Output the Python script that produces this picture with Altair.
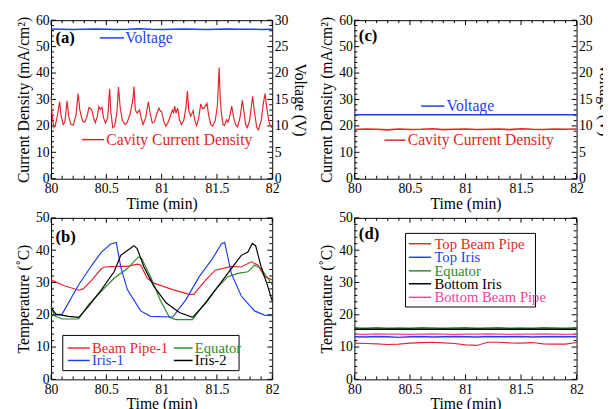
import altair as alt
import pandas as pd

FONT = "Liberation Serif"
RED = "#e4252b"
BLUE = "#1f3ff0"
GREEN = "#2d8a2a"
BLACK = "#000000"
PINK = "#f2409b"

# ---------------- Panel (a) ----------------
A_CD_T = [80.000, 80.010, 80.025, 80.040, 80.060, 80.077, 80.090, 80.110, 80.125, 80.145,
          80.160, 80.180, 80.200, 80.225, 80.245, 80.260, 80.285, 80.305, 80.325, 80.342,
          80.360, 80.372, 80.385, 80.400, 80.418, 80.432, 80.445, 80.460, 80.475, 80.492,
          80.512, 80.530, 80.540, 80.558, 80.575, 80.595, 80.610, 80.625, 80.645, 80.670,
          80.690, 80.715, 80.740, 80.750, 80.762, 80.780, 80.800, 80.815, 80.832, 80.855,
          80.880, 80.895, 80.915, 80.935, 80.955, 80.976, 80.990, 81.000, 81.020, 81.038,
          81.060, 81.085, 81.098, 81.108, 81.118, 81.130, 81.145, 81.160, 81.178, 81.200,
          81.220, 81.233, 81.245, 81.263, 81.285, 81.300, 81.316, 81.335, 81.354, 81.370,
          81.382, 81.410, 81.425, 81.445, 81.462, 81.485, 81.505, 81.520, 81.530, 81.540,
          81.556, 81.568, 81.585, 81.600, 81.618, 81.634, 81.650, 81.668, 81.686, 81.708,
          81.730, 81.745, 81.760, 81.775, 81.795, 81.823, 81.840, 81.860, 81.875, 81.900,
          81.920, 81.935, 81.950, 81.970, 81.985, 82.000]
A_CD_V = [31.0, 24.0, 19.5, 20.5, 24.5, 29.1, 24.0, 20.5, 21.5, 29.5,
          23.5, 20.5, 20.3, 24.0, 32.2, 26.0, 21.8, 21.4, 23.5, 26.9,
          26.5, 25.5, 23.0, 21.2, 23.5, 27.3, 26.2, 27.0, 23.0, 21.1,
          23.0, 34.0, 25.5, 19.3, 19.8, 25.0, 34.7, 27.0, 22.0, 20.5,
          21.5, 24.5, 30.0, 34.9, 26.0, 24.8, 26.0, 23.0, 20.5, 23.0,
          29.1, 25.0, 21.1, 21.5, 24.5, 26.7, 25.5, 25.4, 21.5, 19.9,
          21.5, 24.5, 26.0, 25.0, 27.5, 24.8, 26.7, 22.5, 20.5, 22.0,
          27.0, 33.2, 26.0, 23.6, 25.8, 22.0, 20.1, 23.0, 28.3, 26.5,
          26.7, 28.5, 24.0, 20.5, 19.9, 22.0, 28.0, 42.1, 30.0, 24.8,
          20.5, 20.1, 22.3, 21.4, 24.0, 27.5, 23.5, 20.5, 19.6, 23.0,
          29.7, 25.0, 20.5, 19.3, 22.0, 31.2, 25.0, 19.5, 18.6, 22.0,
          28.5, 32.2, 27.0, 21.7, 19.8, 19.3]
A_V_T = [80.0, 80.1, 80.2, 80.3, 80.4, 80.5, 80.6, 80.7, 80.8, 80.9, 81.0,
         81.1, 81.2, 81.3, 81.4, 81.5, 81.6, 81.7, 81.8, 81.9, 82.0]
A_V_V = [28.35, 28.3, 28.25, 28.3, 28.35, 28.3, 28.25, 28.3, 28.4, 28.3, 28.25,
         28.3, 28.35, 28.3, 28.25, 28.3, 28.35, 28.3, 28.3, 28.25, 28.3]

# ---------------- Panel (c) ----------------
C_T = [80.0, 80.1, 80.2, 80.3, 80.4, 80.5, 80.6, 80.7, 80.8, 80.9, 81.0,
       81.1, 81.2, 81.3, 81.4, 81.5, 81.6, 81.7, 81.8, 81.9, 82.0]
C_CD_V = [18.6, 18.8, 18.7, 18.5, 18.8, 18.6, 18.7, 18.9, 18.6, 18.7, 18.8,
          18.6, 18.7, 18.8, 18.6, 18.9, 18.7, 18.6, 18.8, 18.7, 18.8]
C_V_V = [12.1, 12.1, 12.1, 12.1, 12.1, 12.1, 12.1, 12.1, 12.1, 12.1, 12.1,
         12.1, 12.1, 12.1, 12.1, 12.1, 12.1, 12.1, 12.1, 12.1, 12.1]

# ---------------- Panel (b) ----------------
B_BP1_T = [80.00, 80.12, 80.25, 80.29, 80.37, 80.456, 80.485, 80.60, 80.69, 80.78, 80.81, 80.87,
           80.93, 81.10, 81.25, 81.29, 81.40, 81.485, 81.63, 81.72, 81.81, 81.87, 81.93, 82.00]
B_BP1_V = [30.8, 29.0, 27.6, 28.0, 30.8, 34.3, 34.8, 35.0, 35.0, 35.7, 35.4, 31.3,
           29.8, 27.8, 26.3, 26.3, 30.8, 33.8, 35.0, 34.8, 36.4, 35.4, 31.8, 30.8]
B_IR1_T = [80.00, 80.10, 80.25, 80.37, 80.456, 80.54, 80.59, 80.63, 80.69, 80.81, 80.90,
           81.10, 81.22, 81.34, 81.46, 81.54, 81.57, 81.63, 81.72, 81.84, 81.93, 82.00]
B_IR1_V = [19.7, 20.2, 29.3, 35.4, 39.4, 41.9, 42.4, 34.8, 27.8, 21.2, 19.5,
           19.3, 24.7, 31.8, 37.4, 41.9, 42.4, 32.8, 25.8, 21.2, 19.9, 19.7]
B_EQ_T = [80.00, 80.03, 80.10, 80.25, 80.34, 80.456, 80.57, 80.69, 80.79, 80.82, 80.90, 80.985,
          81.07, 81.13, 81.28, 81.37, 81.485, 81.60, 81.69, 81.78, 81.84, 81.90, 81.96, 82.00]
B_EQ_V = [22.7, 19.7, 18.7, 18.7, 23.2, 27.3, 31.3, 34.3, 37.9, 37.4, 31.8, 24.7,
          19.2, 18.5, 18.5, 22.7, 27.8, 31.8, 32.8, 33.3, 35.4, 34.3, 31.3, 29.3]
B_IR2_T = [80.00, 80.044, 80.16, 80.25, 80.34, 80.456, 80.57, 80.63, 80.69, 80.75, 80.78, 80.84,
           80.93, 81.04, 81.16, 81.28, 81.40, 81.51, 81.63, 81.72, 81.78, 81.82, 81.85, 81.90,
           81.96, 82.00]
B_IR2_V = [22.2, 20.2, 19.5, 19.2, 22.7, 27.8, 33.3, 38.4, 39.9, 41.4, 40.4, 34.8,
           28.8, 23.7, 20.7, 19.2, 23.7, 28.8, 34.3, 38.4, 39.4, 42.1, 41.4, 34.8,
           28.8, 24.2]

# ---------------- Panel (d) ----------------
D_T = [80.0, 80.1, 80.2, 80.3, 80.4, 80.5, 80.6, 80.7, 80.8, 80.9, 81.0,
       81.1, 81.2, 81.3, 81.4, 81.5, 81.6, 81.7, 81.8, 81.9, 82.0]
D_TBP = [11.2, 11.1, 11.0, 10.8, 10.9, 11.2, 11.4, 11.5, 11.3, 11.1, 10.7,
         10.5, 11.5, 11.5, 11.3, 11.2, 11.4, 11.0, 10.9, 10.9, 11.4]
D_TIR = [13.2, 13.1, 13.3, 13.2, 13.0, 13.2, 13.3, 13.1, 13.2, 13.3, 13.2,
         13.1, 13.3, 13.2, 13.2, 13.3, 13.1, 13.2, 13.3, 13.2, 13.2]
D_EQ = [15.9, 15.8, 16.0, 15.8, 15.9, 15.8, 16.0, 15.9, 15.8, 15.9, 16.0,
        15.8, 15.9, 16.0, 15.8, 15.9, 15.8, 16.0, 15.9, 15.8, 16.0]
D_BIR = [15.5, 15.5, 15.5, 15.5, 15.5, 15.5, 15.5, 15.5, 15.5, 15.5, 15.5,
         15.5, 15.5, 15.5, 15.5, 15.5, 15.5, 15.5, 15.5, 15.5, 15.5]
D_BBP = [14.0, 13.9, 14.1, 14.0, 14.0, 13.9, 14.0, 14.1, 14.0, 13.9, 14.0,
         14.0, 14.1, 14.0, 13.9, 14.0, 14.0, 14.1, 14.0, 13.9, 14.0]

# ---------------- axes ----------------
T_DOM = [80, 82]
X_MAJ = [80, 80.5, 81, 81.5, 82]
X_MIN = [80.1, 80.2, 80.3, 80.4, 80.6, 80.7, 80.8, 80.9, 81.1, 81.2, 81.3, 81.4,
         81.6, 81.7, 81.8, 81.9]
CD_MAJ = [0, 10, 20, 30, 40, 50, 60]
CD_MIN = [2, 4, 6, 8, 12, 14, 16, 18, 22, 24, 26, 28, 32, 34, 36, 38, 42, 44, 46, 48, 52, 54, 56, 58]
V_MAJ = [0, 5, 10, 15, 20, 25, 30]
TE_MAJ = [0, 10, 20, 30, 40, 50]
TE_MIN = [2, 4, 6, 8, 12, 14, 16, 18, 22, 24, 26, 28, 32, 34, 36, 38, 42, 44, 46, 48]


def sc(dom):
    return alt.Scale(domain=dom, nice=False, zero=False, padding=0)


def x_label_axis():
    return alt.Axis(orient="bottom", values=X_MAJ, format=".4~g", ticks=False, domain=False,
                    labelPadding=3, labelFlush=False, labelOverlap=False, grid=False,
                    title="Time (min)", titlePadding=0)


def y_label_axis(orient, title, vals):
    return alt.Axis(orient=orient, values=vals, format=".4~g", ticks=False, domain=False,
                    labelPadding=2, labelFlush=False, labelOverlap=False, grid=False,
                    title=title, titlePadding=4)


def tick_layers(W, H, ydom, ymaj, ymin):
    """Inward ticks on all four sides, drawn as short rules through the scales."""
    out = []
    for vals, size in ((X_MAJ, 5), (X_MIN, 3)):
        df = pd.DataFrame({"t": vals})
        xenc = alt.X("t:Q", scale=sc(T_DOM), axis=None)
        out.append(alt.Chart(df).mark_rule(color="black", strokeWidth=1).encode(
            x=xenc, y=alt.value(H), y2=alt.value(H - size)))
        out.append(alt.Chart(df).mark_rule(color="black", strokeWidth=1).encode(
            x=xenc, y=alt.value(0), y2=alt.value(size)))
    for vals, size in ((ymaj, 5), (ymin, 3)):
        df = pd.DataFrame({"v": vals})
        yenc = alt.Y("v:Q", scale=sc(ydom), axis=None)
        out.append(alt.Chart(df).mark_rule(color="black", strokeWidth=1).encode(
            y=yenc, x=alt.value(0), x2=alt.value(size)))
        out.append(alt.Chart(df).mark_rule(color="black", strokeWidth=1).encode(
            y=yenc, x=alt.value(W), x2=alt.value(W - size)))
    return out


def line(t, v, color, ydom, xaxis=None, yaxis=None, width=1.2):
    df = pd.DataFrame({"t": t, "v": v})
    return alt.Chart(df).mark_line(color=color, strokeWidth=width).encode(
        x=alt.X("t:Q", scale=sc(T_DOM), axis=xaxis),
        y=alt.Y("v:Q", scale=sc(ydom), axis=yaxis))


def texts(items, ydom, size=15, bold=False):
    df = pd.DataFrame(items, columns=["t", "v", "label", "color"])
    return alt.Chart(df).mark_text(align="left", baseline="middle", font=FONT, fontSize=size,
                                   fontWeight="bold" if bold else "normal").encode(
        x=alt.X("t:Q", scale=sc(T_DOM), axis=None),
        y=alt.Y("v:Q", scale=sc(ydom), axis=None),
        text="label:N",
        color=alt.Color("color:N", scale=None))


def samples(items, ydom, width=1.5):
    df = pd.DataFrame(items, columns=["t", "t2", "v", "color"])
    return alt.Chart(df).mark_rule(strokeWidth=width).encode(
        x=alt.X("t:Q", scale=sc(T_DOM), axis=None),
        x2="t2:Q",
        y=alt.Y("v:Q", scale=sc(ydom), axis=None),
        color=alt.Color("color:N", scale=None))


def box(t1, t2, v1, v2, ydom):
    df = pd.DataFrame({"t": [t1], "t2": [t2], "v": [v1], "v2": [v2]})
    return alt.Chart(df).mark_rect(fill="white", stroke="black", strokeWidth=1).encode(
        x=alt.X("t:Q", scale=sc(T_DOM), axis=None), x2="t2:Q",
        y=alt.Y("v:Q", scale=sc(ydom), axis=None), y2="v2:Q")


def panel(layers, W, H):
    return alt.layer(*layers).resolve_scale(y="independent").resolve_axis(
        x="independent", y="independent").properties(width=W, height=H)


WL, WR = 226, 227
HT, HB = 162, 165
CD_DOM = [0, 60]
V_DOM = [0, 30]
TE_DOM = [0, 50]

# (a)
pa = panel(tick_layers(WL, HT, CD_DOM, CD_MAJ, CD_MIN) + [
    line(A_CD_T, A_CD_V, RED, CD_DOM, x_label_axis(),
         y_label_axis("left", "Current Density (mA/cm²)", CD_MAJ)),
    line(A_V_T, A_V_V, BLUE, V_DOM, None, y_label_axis("right", "Voltage (V)", V_MAJ), 1.5),
    samples([(80.44, 80.66, 53.3, BLUE), (80.28, 80.48, 14.8, RED)], CD_DOM),
    texts([(80.67, 53.3, "Voltage", BLUE), (80.50, 14.8, "Cavity Current Density", RED)], CD_DOM, 16),
    texts([(80.04, 53.2, "(a)", BLACK)], CD_DOM, 17, True),
], WL, HT)

# (c)
pc = panel(tick_layers(WR, HT, CD_DOM, CD_MAJ, CD_MIN) + [
    line(C_T, C_CD_V, RED, CD_DOM, x_label_axis(),
         y_label_axis("left", "Current Density (mA/cm²)", CD_MAJ), 1.6),
    line(C_T, C_V_V, BLUE, V_DOM, None, y_label_axis("right", "Voltage (V)", V_MAJ), 1.5),
    samples([(80.60, 80.81, 27.5, BLUE), (80.27, 80.46, 14.6, RED)], CD_DOM),
    texts([(80.83, 27.5, "Voltage", BLUE), (80.48, 14.6, "Cavity Current Density", RED)], CD_DOM, 16),
    texts([(80.04, 53.8, "(c)", BLACK)], CD_DOM, 17, True),
], WR, HT)

# (b)
pb = panel(tick_layers(WL, HB, TE_DOM, TE_MAJ, TE_MIN) + [
    line(B_BP1_T, B_BP1_V, RED, TE_DOM, x_label_axis(),
         y_label_axis("left", "Temperature (˚C)", TE_MAJ)),
    line(B_EQ_T, B_EQ_V, GREEN, TE_DOM),
    line(B_IR1_T, B_IR1_V, BLUE, TE_DOM),
    line(B_IR2_T, B_IR2_V, BLACK, TE_DOM),
    box(80.106, 81.70, 2.7, 13.6, TE_DOM),
    samples([(80.15, 80.35, 9.7, RED), (81.11, 81.28, 9.7, GREEN),
             (80.15, 80.35, 5.85, BLUE), (81.11, 81.28, 5.85, BLACK)], TE_DOM),
    texts([(80.37, 9.7, "Beam Pipe-1", RED), (81.30, 9.7, "Equator", GREEN),
           (80.37, 5.85, "Iris-1", BLUE), (81.30, 5.85, "Iris-2", BLACK)], TE_DOM, 15),
    texts([(80.04, 44.2, "(b)", BLACK)], TE_DOM, 17, True),
], WL, HB)

# (d)
pd_ = panel(tick_layers(WR, HB, TE_DOM, TE_MAJ, TE_MIN) + [
    line(D_T, D_TBP, RED, TE_DOM, x_label_axis(),
         y_label_axis("left", "Temperature (˚C)", TE_MAJ)),
    line(D_T, D_TIR, BLUE, TE_DOM, width=1.5),
    line(D_T, D_EQ, GREEN, TE_DOM, width=1.5),
    line(D_T, D_BIR, BLACK, TE_DOM, width=1.5),
    line(D_T, D_BBP, PINK, TE_DOM, width=1.3),
    box(80.46, 81.63, 22.4, 45.2, TE_DOM),
    samples([(80.49, 80.69, 42.0, RED), (80.49, 80.69, 37.8, BLUE), (80.49, 80.69, 33.6, GREEN),
             (80.49, 80.69, 29.6, BLACK), (80.49, 80.69, 25.4, PINK)], TE_DOM),
    texts([(80.72, 42.0, "Top Beam Pipe", RED), (80.72, 37.8, "Top Iris", BLUE),
           (80.72, 33.6, "Equator", GREEN), (80.72, 29.6, "Bottom Iris", BLACK),
           (80.72, 25.4, "Bottom Beam Pipe", PINK)], TE_DOM, 15),
    texts([(80.04, 45.0, "(d)", BLACK)], TE_DOM, 17, True),
], WR, HB)

chart = alt.concat(pa, pc, pb, pd_, columns=2, spacing={"row": 40, "column": 84},
                   bounds="flush").properties(
    padding={"left": 7, "top": 0, "right": -10, "bottom": 0},
    background="white"
).configure_view(stroke="black", strokeWidth=1).configure_axis(
    labelFont=FONT, titleFont=FONT, labelFontSize=14, titleFontSize=16,
    labelColor="black", titleColor="black", titleFontWeight="normal",
    tickColor="black", tickWidth=1, grid=False
)

chart.save("out.html", embed_options={"renderer": "svg", "actions": False})
